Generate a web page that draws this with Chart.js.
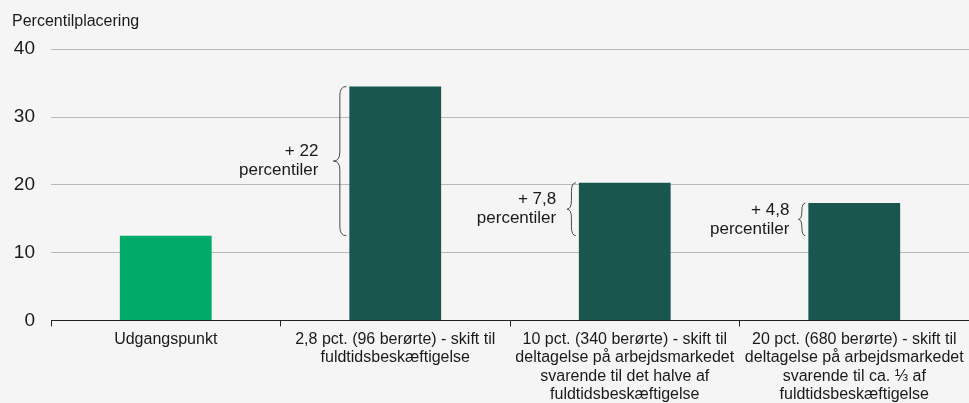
<!DOCTYPE html>
<html>
<head>
<meta charset="utf-8">
<script src="https://cdn.jsdelivr.net/npm/chart.js@4/dist/chart.umd.min.js"></script>
<style>
  html, body { margin: 0; padding: 0; background: #f5f5f5; }
  #wrap { width: 969px; height: 403px; }
</style>
</head>
<body>
<div id="wrap"><canvas id="myChart"></canvas></div>
<script>
const categories = [
  ['Udgangspunkt'],
  ['2,8 pct. (96 berørte) - skift til', 'fuldtidsbeskæftigelse'],
  ['10 pct. (340 berørte) - skift til', 'deltagelse på arbejdsmarkedet', 'svarende til det halve af', 'fuldtidsbeskæftigelse'],
  ['20 pct. (680 berørte) - skift til', 'deltagelse på arbejdsmarkedet', 'svarende til ca. ⅓ af', 'fuldtidsbeskæftigelse']
];
const values = [12.5, 34.5, 20.3, 17.3];
const gainLabels = [null, '+ 22', '+ 7,8', '+ 4,8'];
const yTicks = [0, 10, 20, 30, 40];

const FONT = "'Liberation Sans', Arial, sans-serif";

// curly braces from the starting level up to each bar
const bracePlugin = {
  id: 'braces',
  afterDatasetsDraw(chart) {
    const ctx = chart.ctx;
    const y = chart.scales.y;
    const meta = chart.getDatasetMeta(0);
    const base = y.getPixelForValue(values[0]);
    ctx.save();
    gainLabels.forEach((lbl, i) => {
      if (!lbl) return;
      const bar = meta.data[i];
      const top = y.getPixelForValue(values[i]);
      const h = base - top;
      const x0 = bar.x - bar.width / 2 - 3;
      const w = Math.min(13, Math.max(7, h / 6));
      const mid = (top + base) / 2;
      const r = Math.min(9, h / 4);
      const xm = x0 - w / 2;
      ctx.strokeStyle = '#4a4a4a';
      ctx.lineWidth = 1;
      ctx.beginPath();
      ctx.moveTo(x0, top);
      ctx.quadraticCurveTo(xm, top, xm, top + r);
      ctx.lineTo(xm, mid - r);
      ctx.quadraticCurveTo(xm, mid, x0 - w, mid);
      ctx.quadraticCurveTo(xm, mid, xm, mid + r);
      ctx.lineTo(xm, base - r);
      ctx.quadraticCurveTo(xm, base, x0, base);
      ctx.stroke();

      ctx.fillStyle = '#1a1a1a';
      ctx.font = '17px ' + FONT;
      ctx.textAlign = 'right';
      ctx.textBaseline = 'middle';
      const tx = x0 - w - Math.max(7, w + 2);
      ctx.fillText(lbl, tx, mid - 9.5);
      ctx.fillText('percentiler', tx, mid + 9.5);
    });
    ctx.restore();
  }
};

const ctx = document.getElementById('myChart');

new Chart(ctx, {
  type: 'bar',
  data: {
    labels: categories,
    datasets: [{
      label: 'Percentilplacering',
      data: values,
      backgroundColor: ['#00ab6a', '#19574e', '#19574e', '#19574e'],
      borderWidth: 0,
      categoryPercentage: 1,
      barPercentage: 0.4
    }]
  },
  options: {
    responsive: true,
    maintainAspectRatio: false,
    animation: false,
    layout: { padding: { left: 12, right: 0, top: 12, bottom: -5 } },
    plugins: {
      legend: { display: false },
      tooltip: { enabled: false },
      title: {
        display: true,
        text: 'Percentilplacering',
        align: 'start',
        color: '#1a1a1a',
        font: { family: FONT, size: 16, weight: 'normal' },
        padding: { top: 0, bottom: 18 }
      }
    },
    scales: {
      x: {
        offset: true,
        grid: {
          display: true,
          offset: true,
          drawOnChartArea: false,
          drawTicks: true,
          tickLength: 6,
          color: '#222'
        },
        border: { display: true, color: '#222', width: 1 },
        ticks: {
          color: '#1a1a1a',
          maxRotation: 0,
          autoSkip: false,
          padding: 4,
          font: { family: FONT, size: 16, lineHeight: 1.15 }
        }
      },
      y: {
        min: 0,
        max: 40,
        afterBuildTicks(scale) { scale.ticks = yTicks.map(v => ({ value: v })); },
        afterFit(scale) { scale.width = 39; },
        grid: { color: '#b9b9b9', drawTicks: false, lineWidth: 1 },
        border: { display: false },
        ticks: {
          color: '#1a1a1a',
          padding: 16,
          font: { family: FONT, size: 19 }
        }
      }
    }
  },
  plugins: [bracePlugin]
});
</script>
</body>
</html>
